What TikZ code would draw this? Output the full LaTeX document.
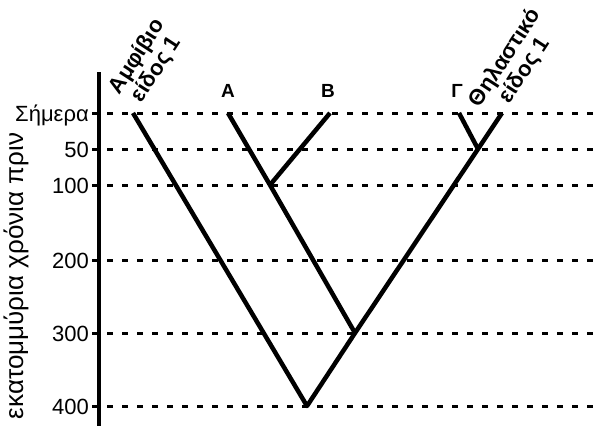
\documentclass[tikz,border=0pt]{standalone}
\usepackage{fontspec}
\setmainfont{Liberation Sans}
\usetikzlibrary{positioning}

\begin{document}
\begin{tikzpicture}[
  x=1pt, y=-1pt,
  branch/.style={line width=4.5pt, line join=round},
  level/.style={line width=3pt, dash pattern=on 6pt off 9pt},
  tick/.style={anchor=base east, inner sep=0pt, font=\fontsize{22}{22}\selectfont},
  species/.style={inner sep=0pt, font=\bfseries\fontsize{19}{19}\selectfont},
  taxon/.style={rotate=57, align=center, inner sep=0pt, font=\bfseries\fontsize{22}{23}\selectfont}
]
  \useasboundingbox (0,0) rectangle (595,426);

  % time levels
  \foreach \lv/\y/\txt in {now/113/Σήμερα, t50/149/50, t100/185/100, t200/260/200, t300/333/300, t400/406/400} {
    \coordinate (\lv) at (92,\y);
    \coordinate (\lv-end) at (595,\y);
    \draw[level] (\lv) -- (\lv-end);
    \node[tick] (\lv-lbl) at (89,\y+8) {\txt};
  }

  % axis
  \coordinate (axtop) at (99,72);
  \coordinate (axbot) at (99,426);
  \draw[line width=4pt] (axtop) -- (axbot);
  \node[rotate=90, inner sep=0pt, font=\fontsize{26}{26}\selectfont] (axlbl) at (16,276) {εκατομμύρια χρόνια πριν};

  % tree
  \coordinate (root) at (307,406);
  \coordinate (n300) at (355,333);
  \coordinate (nAB) at (270,185);
  \coordinate (nGM) at (478,149);
  \coordinate (amph) at (133,113);
  \coordinate (tipA) at (228,113);
  \coordinate (tipB) at (330,113);
  \coordinate (tipG) at (459,113);
  \coordinate (mamm) at (502,113);

  \draw[branch] (amph) -- (root) -- (n300) -- (nGM) -- (mamm);
  \draw[branch] (tipA) -- (nAB) -- (n300);
  \draw[branch] (tipB) -- (nAB);
  \draw[branch] (tipG) -- (nGM);

  % labels
  \node[species] (lblA) at (228,91) {A};
  \node[species] (lblB) at (328,91) {B};
  \node[species] (lblG) at (457,91) {Γ};
  \node[taxon] (lblamph) at (147,63) {Αμφίβιο\\είδος 1};
  \node[taxon] (lblmamm) at (515,64) {Θηλαστικό\\είδος 1};
\end{tikzpicture}
\end{document}
